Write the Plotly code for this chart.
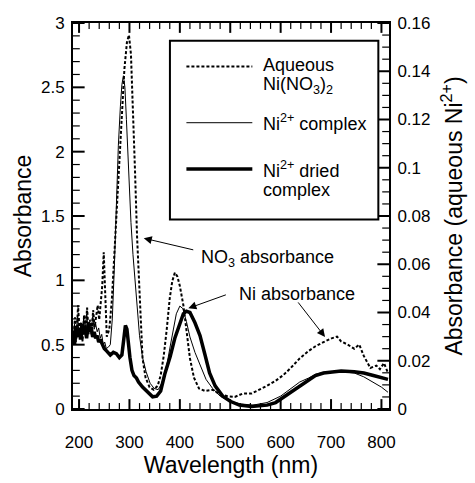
import plotly.graph_objects as go

# ---- data ----
aq_nm = [188,192,195,198,201,204,207,210,213,216,219,222,225,228,231,234,237,240,243,246,249,252,255,260,265,270,275,280,285,290,295,299,303,307,311,315,320,326,332,340,348,356,362,368,374,380,385,390,395,400,407,413,420,428,438,450,465,480,495,509,525,542,558,573,590,605,620,638,655,669,685,701,712,720,733,746,756,765,778,790,797,805,813]
aq_abs = [0.027,0.038,0.029,0.043,0.032,0.036,0.028,0.039,0.033,0.042,0.031,0.037,0.032,0.041,0.034,0.038,0.043,0.037,0.046,0.051,0.065,0.043,0.030,0.033,0.045,0.064,0.083,0.104,0.125,0.141,0.152,0.155,0.147,0.125,0.099,0.072,0.046,0.021,0.013,0.009,0.008,0.0096,0.014,0.022,0.033,0.046,0.053,0.0565,0.055,0.051,0.043,0.032,0.021,0.013,0.0085,0.0075,0.008,0.006,0.0053,0.005,0.0064,0.0064,0.008,0.0096,0.0117,0.014,0.017,0.021,0.024,0.026,0.0277,0.0293,0.030,0.028,0.0267,0.025,0.0267,0.022,0.017,0.018,0.0165,0.019,0.015]

cx_nm = [188,191,194,197,200,203,206,209,212,215,218,221,224,227,230,233,236,239,242,245,248,251,254,258,262,266,270,274,278,282,285,288,291,294,298,303,307,310,314,320,326,333,341,349,357,364,370,375,381,387,393,400,406,413,420,430,440,452,465,480,500,520,545,573,600,620,638,655,669,685,701,720,746,765,784,800,813]
cx_abs = [0.55,0.66,0.52,0.72,0.58,0.65,0.55,0.70,0.60,0.74,0.62,0.68,0.58,0.72,0.62,0.66,0.60,0.63,0.55,0.58,0.50,0.52,0.47,0.48,0.50,0.70,1.10,1.60,2.05,2.35,2.52,2.59,2.50,2.25,1.85,1.45,1.20,1.05,0.87,0.57,0.40,0.29,0.20,0.16,0.15,0.20,0.28,0.36,0.49,0.62,0.74,0.80,0.78,0.68,0.56,0.44,0.34,0.23,0.16,0.10,0.06,0.04,0.03,0.05,0.10,0.16,0.21,0.24,0.27,0.285,0.29,0.29,0.28,0.25,0.21,0.17,0.13]

dr_nm = [188,191,194,197,200,203,206,209,212,215,218,221,224,227,230,233,236,239,242,246,250,255,262,268,274,280,285,289,292,295,298,301,305,309,314,318,326,336,346,354,362,370,381,390,400,407,413,420,430,440,450,459,470,485,500,518,542,573,590,605,620,638,655,669,685,701,720,746,765,784,800,813]
dr_abs = [0.60,0.50,0.64,0.56,0.62,0.54,0.66,0.58,0.63,0.55,0.66,0.60,0.64,0.56,0.60,0.55,0.57,0.52,0.54,0.50,0.47,0.45,0.42,0.44,0.43,0.40,0.42,0.55,0.65,0.62,0.50,0.40,0.30,0.26,0.24,0.21,0.17,0.13,0.095,0.10,0.14,0.27,0.41,0.55,0.67,0.74,0.76,0.75,0.67,0.57,0.42,0.28,0.18,0.10,0.06,0.03,0.02,0.03,0.05,0.09,0.13,0.18,0.22,0.26,0.28,0.29,0.295,0.29,0.28,0.26,0.24,0.23]

# tick positions (axis scales)
x_major = [200, 300, 400, 500, 600, 700, 800]
x_minor = [v for v in range(200, 801, 20) if v % 100]
y_major = [0, 0.5, 1, 1.5, 2, 2.5, 3]
y_minor = [round(i * 0.1, 2) for i in range(31) if i % 5]
y2_major = [0, 0.02, 0.04, 0.06, 0.08, 0.1, 0.12, 0.14, 0.16]
y2_minor = [round(i * 0.005, 3) for i in range(33) if i % 4]

x_range = [188, 815]
y_range = [0, 3]
y2_range = [0, 0.16]

FONT = "Liberation Sans, Arial, Helvetica, sans-serif"

L, R, T, B = 73, 76, 23, 69
W, H = 475, 483
PW, PH = W - L - R, H - T - B

fig = go.Figure()
fig.add_trace(go.Scatter(x=aq_nm, y=aq_abs, yaxis="y2", mode="lines",
                         line=dict(color="black", width=2, dash="3px,2px"), showlegend=False))
fig.add_trace(go.Scatter(x=cx_nm, y=cx_abs, mode="lines",
                         line=dict(color="black", width=1), showlegend=False))
fig.add_trace(go.Scatter(x=dr_nm, y=dr_abs, mode="lines",
                         line=dict(color="black", width=3.5), showlegend=False))

xu = (x_range[1] - x_range[0]) / PW
yu = (y_range[1] - y_range[0]) / PH

def xticks_trace(vals, ln, w):
    xx, yy = [], []
    for v in vals:
        xx += [v, v, None, v, v, None]
        yy += [y_range[0], y_range[0] + ln * yu, None, y_range[1], y_range[1] - ln * yu, None]
    fig.add_trace(go.Scatter(x=xx, y=yy, mode="lines", line=dict(color="black", width=w),
                             showlegend=False, hoverinfo="skip", connectgaps=False))

def yticks_trace(vals, ln, w):
    xx, yy = [], []
    for v in vals:
        xx += [x_range[0], x_range[0] + ln * xu, None]
        yy += [v, v, None]
    fig.add_trace(go.Scatter(x=xx, y=yy, mode="lines", line=dict(color="black", width=w),
                             showlegend=False, hoverinfo="skip", connectgaps=False))

def y2ticks_trace(vals, ln, w):
    xx, yy = [], []
    for v in vals:
        xx += [x_range[1], x_range[1] - ln * xu, None]
        yy += [v, v, None]
    fig.add_trace(go.Scatter(x=xx, y=yy, yaxis="y2", mode="lines", line=dict(color="black", width=w),
                             showlegend=False, hoverinfo="skip", connectgaps=False))

xticks_trace(x_major, 10, 2)
xticks_trace(x_minor, 6, 1.2)
yticks_trace(y_major, 12, 2)
yticks_trace(y_minor, 7, 1.2)
y2ticks_trace(y2_major, 12, 2)
y2ticks_trace(y2_minor, 7, 1.2)

def px(x):
    return (x - L) / PW

def py(y):
    return (T + PH - y) / PH

shapes = [
    dict(type="rect", xref="paper", yref="paper", x0=px(173), x1=px(388), y0=py(222), y1=py(41),
         line=dict(color="black", width=2), fillcolor="white"),
    dict(type="line", xref="paper", yref="paper", x0=px(190), x1=px(258), y0=py(67), y1=py(67),
         line=dict(color="black", width=2, dash="3px,2px")),
    dict(type="line", xref="paper", yref="paper", x0=px(190), x1=px(258), y0=py(124), y1=py(124),
         line=dict(color="black", width=1)),
    dict(type="line", xref="paper", yref="paper", x0=px(190), x1=px(258), y0=py(171), y1=py(171),
         line=dict(color="black", width=3.5)),
]

def txt(text, x, y, size=18):
    return dict(text=text, xref="paper", yref="paper", x=px(x), y=py(y), xanchor="left", yanchor="middle",
                showarrow=False, font=dict(size=size, color="black", family=FONT))

annotations = [
    txt("Aqueous", 267, 66),
    txt("Ni(NO<sub>3</sub>)<sub>2</sub>", 267, 86),
    txt("Ni<sup>2+</sup> complex", 267, 124),
    txt("Ni<sup>2+</sup> dried", 267, 171),
    txt("complex", 267, 192),
    txt("NO<sub>3</sub> absorbance", 203, 262),
    txt("Ni absorbance", 242, 298),
]

def arrow(tip, tail):
    tx = x_range[0] + (tip[0] - L) * xu
    ty = (T + PH - tip[1]) * yu
    return dict(x=tx, y=ty, xref="x", yref="y", ax=tail[0] - tip[0], ay=tail[1] - tip[1],
                text="", showarrow=True, arrowhead=2, arrowsize=1.6, arrowwidth=1, arrowcolor="black")

annotations += [
    arrow((146, 241), (197, 253)),
    arrow((192, 312), (231, 298)),
    arrow((333, 341), (305, 305)),
]

tickfont = dict(size=17, color="black", family=FONT)
titlefont = dict(size=23, color="black", family=FONT)

fig.update_layout(
    width=W, height=H,
    margin=dict(l=L, r=R, t=T, b=B),
    plot_bgcolor="white",
    shapes=shapes,
    annotations=annotations,
    xaxis=dict(range=x_range, tickvals=x_major, ticks="", showline=True, linecolor="black", linewidth=2,
               mirror=True, showgrid=False, zeroline=False, tickfont=tickfont, ticklabelstandoff=17,
               title=dict(text="Wavelength (nm)", font=titlefont, standoff=2)),
    yaxis=dict(range=y_range, tickvals=y_major, ticks="", showline=True, linecolor="black", linewidth=2,
               showgrid=False, zeroline=False, tickfont=tickfont, ticklabelstandoff=3,
               title=dict(text="Absorbance", font=titlefont, standoff=3)),
    yaxis2=dict(range=y2_range, tickvals=y2_major, overlaying="y", side="right", ticks="",
                showline=True, linecolor="black", linewidth=2, showgrid=False, zeroline=False,
                tickfont=tickfont, ticklabelstandoff=3,
                title=dict(text="Absorbance (aqueous Ni<sup>2+</sup>)", font=titlefont, standoff=16)),
)

fig.write_html("out.html")
